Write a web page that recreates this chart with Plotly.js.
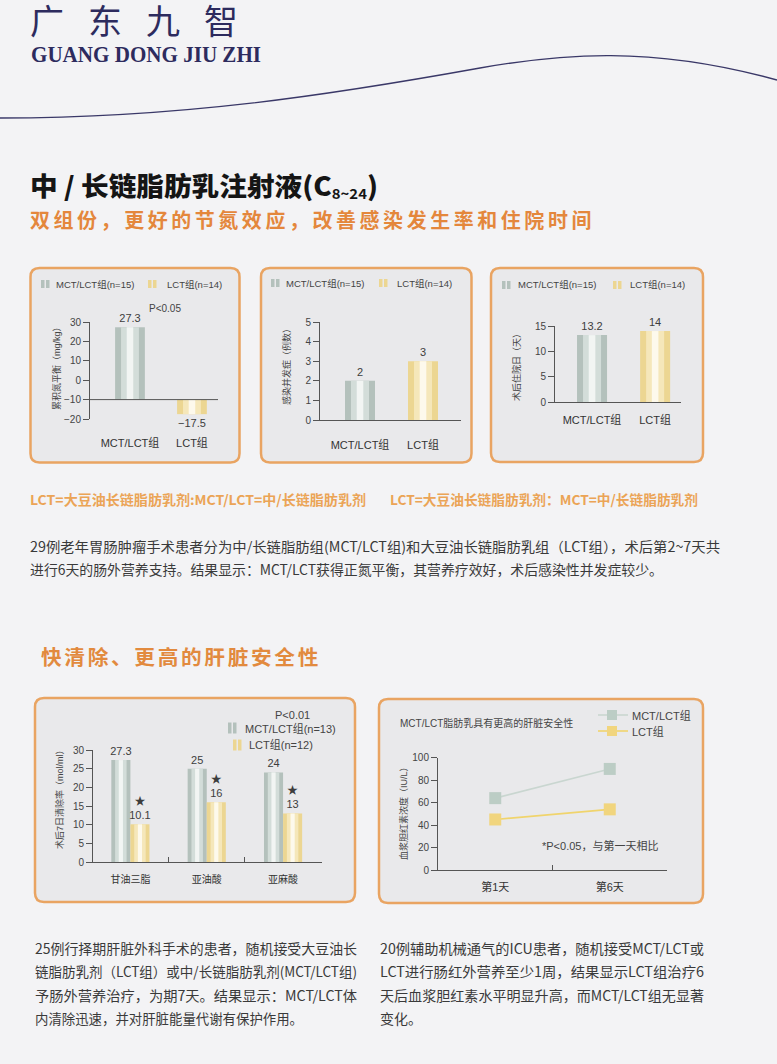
<!DOCTYPE html>
<html><head><meta charset="utf-8">
<script src="https://cdn.plot.ly/plotly-3.0.1.min.js"></script>
<style>
html,body{margin:0;padding:0;background:#f3f3f5;}
#page{position:relative;width:777px;height:1064px;overflow:hidden;background:#f3f3f5;}
#chart{position:absolute;left:0;top:0;width:777px;height:1064px;}
.t{position:absolute;white-space:nowrap;font-family:"Noto Sans CJK SC","Noto Sans",sans-serif;line-height:1.1;z-index:5;transform-origin:left top;}
#brand{left:30px;top:5.5px;font-family:"Liberation Serif","Noto Sans CJK SC",serif;font-size:34px;letter-spacing:24px;color:#2d2b5e;line-height:1;}
#brandEn{left:31px;top:42.7px;font-family:"Liberation Serif",serif;font-weight:bold;font-size:23px;color:#2d2b5e;line-height:1;}
#title{left:30px;top:171px;font-size:26px;font-weight:900;color:#151515;}
#title sub{font-size:14px;vertical-align:-3px;font-weight:700;}
#subtitle{left:30px;top:209px;font-size:20px;font-weight:700;letter-spacing:3.6px;color:#e4873c;}
.fn{top:492px;font-size:13.5px;font-weight:700;color:#eba456;}
.p{font-size:14px;color:#3a3a3a;}
#heading{left:41px;top:646px;font-size:20px;font-weight:700;letter-spacing:2.6px;color:#e28a3e;}
</style></head>
<body><div id="page"><div id="chart"></div>
<div class="t" id="brand">广东九智</div>
<div class="t" id="brandEn" data-w="230">GUANG DONG JIU ZHI</div>
<div class="t" id="title" data-w="348">中 / 长链脂肪乳注射液(C<sub>8~24</sub>)</div>
<div class="t" id="subtitle" data-w="565">双组份，更好的节氮效应，改善感染发生率和住院时间</div>
<div class="t fn" style="left:30px;" data-w="336">LCT=大豆油长链脂肪乳剂:MCT/LCT=中/长链脂肪乳剂</div>
<div class="t fn" style="left:390px;" data-w="308">LCT=大豆油长链脂肪乳剂：MCT=中/长链脂肪乳剂</div>
<div class="t p" style="left:30px;top:539px;" data-w="690">29例老年胃肠肿瘤手术患者分为中/长链脂肪组(MCT/LCT组)和大豆油长链脂肪乳组（LCT组），术后第2~7天共</div>
<div class="t p" style="left:30px;top:562px;" data-w="633">进行6天的肠外营养支持。结果显示：MCT/LCT获得正氮平衡，其营养疗效好，术后感染性并发症较少。</div>
<div class="t" id="heading" data-w="280">快清除、更高的肝脏安全性</div>
<div class="t p" style="left:35px;top:941px;" data-w="322">25例行择期肝脏外科手术的患者，随机接受大豆油长</div>
<div class="t p" style="left:35px;top:964px;" data-w="322">链脂肪乳剂（LCT组）或中/长链脂肪乳剂(MCT/LCT组)</div>
<div class="t p" style="left:35px;top:988px;" data-w="322">予肠外营养治疗，为期7天。结果显示：MCT/LCT体</div>
<div class="t p" style="left:35px;top:1011px;" data-w="268">内清除迅速，并对肝脏能量代谢有保护作用。</div>
<div class="t p" style="left:380px;top:941px;" data-w="324">20例辅助机械通气的ICU患者，随机接受MCT/LCT或</div>
<div class="t p" style="left:380px;top:964px;" data-w="324">LCT进行肠红外营养至少1周，结果显示LCT组治疗6</div>
<div class="t p" style="left:380px;top:988px;" data-w="324">天后血浆胆红素水平明显升高，而MCT/LCT组无显著</div>
<div class="t p" style="left:380px;top:1011px;">变化。</div>
</div>
<script>
// ---------- data ----------
const groups = ['MCT/LCT组', 'LCT组'];
const legendTop = ['MCT/LCT组(n=15)', 'LCT组(n=14)'];
const nitrogenBalance = [27.3, -17.5];
const infections = [2, 3];
const hospitalDays = [13.2, 14];
const lipids = ['甘油三脂', '亚油酸', '亚麻酸'];
const legendClear = ['MCT/LCT组(n=13)', 'LCT组(n=12)'];
const clearanceMCT = [27.3, 25, 24];
const clearanceLCT = [10.1, 16, 13];
const days = ['第1天', '第6天'];
const legendLine = ['MCT/LCT组', 'LCT组'];
const bilirubinMCT = [64, 90];
const bilirubinLCT = [45, 54];

// ---------- helpers ----------
const W = 777, H = 1064;
const fx = p => p / W;
const fy = p => 1 - p / H;
const FONT = 'Liberation Sans, Noto Sans CJK SC, sans-serif';
const AX = '#555';
const MCT_PAL = ['#b4c1bc', '#d3ddd9', '#f2f5f3'];
const LCT_PAL = ['#ecd692', '#f5e7ba', '#fdf9ec'];
const fmt = v => String(v).replace('-', '\u2212');

// cylinder-like bars: three layers drawn over each other; pals = one palette per point
function barStack(xa, ya, cats, vals, pals, center, width, opt) {
  opt = opt || {};
  const base = opt.base || 0;
  const fr = [1, 0.6, 0.22];
  return fr.map((f, i) => {
    const w = width * f;
    const t = {
      type: 'bar', xaxis: xa, yaxis: ya, x: cats,
      y: vals.map(v => v - base), base: base,
      width: w, offset: center - w / 2,
      marker: {color: pals.map(p => p[i]), line: {width: 0}},
      hoverinfo: 'skip', showlegend: false, cliponaxis: false
    };
    if (i === 0) {
      t.text = opt.text || vals.map(fmt);
      t.textposition = 'outside';
      t.textfont = {family: FONT, size: opt.fs || 11, color: '#3d3d3d'};
      t.constraintext = 'none';
    }
    return t;
  });
}
function yax(top, bottom, range, dtick, xa) {
  return {domain: [fy(bottom), fy(top)], range, dtick, anchor: xa,
    showline: true, linecolor: AX, linewidth: 1, ticks: 'outside', ticklen: 6, tickcolor: AX,
    tickfont: {family: FONT, size: 10, color: '#444'}, showgrid: false, zeroline: false, fixedrange: true};
}
function xax(left, right, range, ya, extra) {
  return Object.assign({domain: [fx(left), fx(right)], range, anchor: ya, type: 'category',
    showgrid: false, zeroline: false, showline: true, linecolor: AX, linewidth: 1, ticks: '',
    tickfont: {family: FONT, size: 11, color: '#333'}, ticklabelstandoff: 8, fixedrange: true}, extra || {});
}
function P(x, y) { return fx(x).toFixed(5) + ',' + fy(y).toFixed(5); }
function roundBox(x0, y0, x1, y1, r) {
  return 'M' + P(x0 + r, y0) + ' L' + P(x1 - r, y0) + ' Q' + P(x1, y0) + ' ' + P(x1, y0 + r) +
    ' L' + P(x1, y1 - r) + ' Q' + P(x1, y1) + ' ' + P(x1 - r, y1) +
    ' L' + P(x0 + r, y1) + ' Q' + P(x0, y1) + ' ' + P(x0, y1 - r) +
    ' L' + P(x0, y0 + r) + ' Q' + P(x0, y0) + ' ' + P(x0 + r, y0) + ' Z';
}
function panel(x0, y0, x1, y1) {
  return {type: 'path', xref: 'paper', yref: 'paper', path: roundBox(x0, y0, x1, y1, 9),
    fillcolor: '#e9e9eb', line: {color: '#e9a462', width: 2.5}, layer: 'below'};
}
function rect(x0, y0, x1, y1, color) {
  return {type: 'rect', xref: 'paper', yref: 'paper', x0: fx(x0), x1: fx(x1), y0: fy(y1), y1: fy(y0),
    fillcolor: color, line: {width: 0}, layer: 'above'};
}
function icon(x, y, h, pal) {
  return [rect(x, y - h / 2, x + 3.5, y + h / 2, pal[0]), rect(x + 5, y - h / 2, x + 8.5, y + h / 2, pal[0])];
}
function hline(x0, x1, y, color, w) {
  return {type: 'line', xref: 'paper', yref: 'paper', x0: fx(x0), x1: fx(x1), y0: fy(y), y1: fy(y),
    line: {color, width: w}, layer: 'above'};
}
function ann(text, x, y, o) {
  o = o || {};
  return {text, x: fx(x), y: fy(y), xref: 'paper', yref: 'paper', showarrow: false,
    xanchor: o.xa || 'left', yanchor: 'middle', textangle: o.angle || 0,
    font: {family: FONT, size: o.size || 9.5, color: o.color || '#444'}};
}

const twoPals = [MCT_PAL, LCT_PAL];
// ---------- traces ----------
const traces = [].concat(
  barStack('x', 'y', groups, nitrogenBalance, twoPals, 0, 0.48, {base: -10}),
  barStack('x2', 'y2', groups, infections, twoPals, 0, 0.476, {}),
  barStack('x3', 'y3', groups, hospitalDays, twoPals, 0, 0.476, {}),
  barStack('x4', 'y4', lipids, clearanceMCT, lipids.map(() => MCT_PAL), -0.125, 0.25, {}),
  barStack('x4', 'y4', lipids, clearanceLCT, lipids.map(() => LCT_PAL), 0.125, 0.25, {text: clearanceLCT.map(v => '★<br>' + fmt(v))}),
  [
    {type: 'scatter', mode: 'lines+markers', xaxis: 'x5', yaxis: 'y5', x: days, y: bilirubinMCT, name: legendLine[0],
      line: {color: '#c9d6d0', width: 1.6}, marker: {symbol: 'square', size: 12, color: '#bccdc5'},
      cliponaxis: false, showlegend: false, hoverinfo: 'skip'},
    {type: 'scatter', mode: 'lines+markers', xaxis: 'x5', yaxis: 'y5', x: days, y: bilirubinLCT, name: legendLine[1],
      line: {color: '#f0d46c', width: 1.6}, marker: {symbol: 'square', size: 12, color: '#f1d57e'},
      cliponaxis: false, showlegend: false, hoverinfo: 'skip'}
  ]
);

// ---------- shapes ----------
const curve = {type: 'path', xref: 'paper', yref: 'paper', layer: 'below',
  path: 'M' + P(0, 118) + ' C' + P(180, 118) + ' ' + P(330, 95) + ' ' + P(480, 68) +
        ' C' + P(560, 54) + ' ' + P(650, 45) + ' ' + P(777, 80),
  line: {color: '#3a3868', width: 1.3}};
const shapes = [
  curve,
  panel(30.5, 268, 239.5, 462.5),
  panel(261, 268, 471.5, 462.5),
  panel(491, 268, 703, 462),
  panel(35, 698, 355, 902),
  panel(379, 699, 703, 903),
  {type: 'line', xref: 'x domain', yref: 'y', x0: 0, x1: 1, y0: -10, y1: -10, line: {color: AX, width: 1}, layer: 'above'},
  ...icon(41, 284, 8, MCT_PAL), ...icon(148, 284, 8, LCT_PAL),
  ...icon(271, 283, 8, MCT_PAL), ...icon(379, 283, 8, LCT_PAL),
  ...icon(502, 285, 8, MCT_PAL), ...icon(613, 285, 8, LCT_PAL),
  ...icon(228, 728, 11, MCT_PAL), ...icon(233, 745, 11, LCT_PAL),
  hline(598, 628, 715, '#c9d6d0', 1.6), rect(607, 710, 617, 720, '#bccdc5'),
  hline(598, 628, 731, '#f0d46c', 1.6), rect(607, 726, 617, 736, '#f1d57e')
];

// ---------- annotations ----------
const annotations = [
  ann(legendTop[0], 54, 284), ann(legendTop[1], 165, 284),
  ann(legendTop[0], 284, 283), ann(legendTop[1], 395, 283),
  ann(legendTop[0], 516, 285), ann(legendTop[1], 628, 285),
  ann('P<0.05', 164.5, 308, {xa: 'center', size: 10}),
  ann('累积氮平衡（mg/kg）', 56, 366, {xa: 'center', angle: -90, size: 9}),
  ann('感染并发症（例数）', 286, 365, {xa: 'center', angle: -90, size: 9}),
  ann('术后住院日（天）', 516, 365, {xa: 'center', angle: -90, size: 9}),
  ann('P<0.01', 292, 715, {xa: 'center', size: 11}),
  ann(legendClear[0], 243, 728, {size: 11}), ann(legendClear[1], 247, 744, {size: 11}),
  ann('术后7日清除率（mol/ml）', 59, 797, {xa: 'center', angle: -90, size: 9}),
  ann('MCT/LCT脂肪乳具有更高的肝脏安全性', 398, 723, {size: 10}),
  ann(legendLine[0], 630, 715, {size: 11}), ann(legendLine[1], 630, 731, {size: 11}),
  ann('血浆胆红素浓度（IU/L）', 403, 811, {xa: 'center', angle: -90, size: 9}),
  ann('*P<0.05，与第一天相比', 540, 845, {size: 11})
];

const layout = {
  width: W, height: H, margin: {l: 0, r: 0, t: 0, b: 0},
  paper_bgcolor: '#f3f3f5', plot_bgcolor: 'rgba(0,0,0,0)',
  barmode: 'overlay', showlegend: false, font: {family: FONT},
  xaxis: xax(90, 218, [-0.645, 1.42], 'y', {showline: false, ticklabelstandoff: 16}),
  yaxis: yax(322, 419, [-20, 30], 10, 'x'),
  xaxis2: xax(320, 461, [-0.635, 1.603], 'y2', {ticklabelstandoff: 15}),
  yaxis2: yax(322, 420, [0, 5], 1, 'x2'),
  xaxis3: xax(555, 681, [-0.587, 1.41], 'y3', {ticklabelstandoff: 8}),
  yaxis3: yax(326, 402, [0, 15], 5, 'x3'),
  xaxis4: xax(93, 322, [-0.49, 2.51], 'y4', {ticks: 'inside', tickson: 'boundaries', ticklen: 5, tickcolor: AX, tickfont: {family: FONT, size: 10, color: '#333'}, ticklabelstandoff: 8}),
  yaxis4: yax(750, 862, [0, 30], 5, 'x4'),
  xaxis5: xax(438, 667, [-0.5, 1.5], 'y5', {ticks: 'inside', tickson: 'boundaries', ticklen: 5, tickcolor: AX, ticklabelstandoff: 7}),
  yaxis5: yax(757.7, 870, [0, 100], 20, 'x5'),
  shapes, annotations
};

Plotly.newPlot('chart', traces, layout, {displayModeBar: false, staticPlot: true});

// fit text lines to the widths they occupy on the printed page
function fitText() {
  document.querySelectorAll('[data-w]').forEach(el => {
    el.style.transform = 'none';
    const w = el.getBoundingClientRect().width;
    if (w > 0) el.style.transform = 'scaleX(' + (parseFloat(el.dataset.w) / w) + ')';
  });
}
fitText();
if (document.fonts && document.fonts.ready) document.fonts.ready.then(fitText);
</script>
</body></html>
